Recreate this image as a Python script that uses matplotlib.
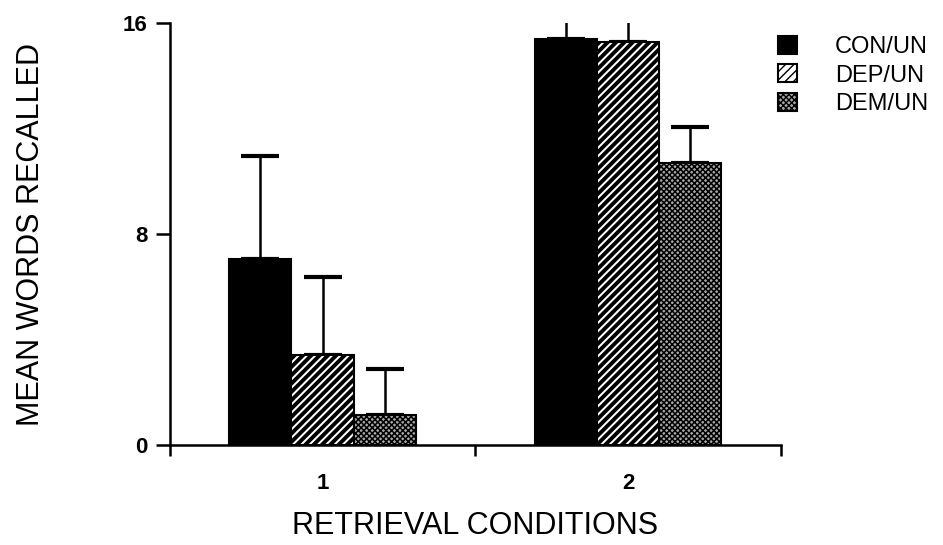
import matplotlib.pyplot as plt
import numpy as np

plt.rcParams['font.family'] = ['Liberation Sans', 'DejaVu Sans']

conditions = ['1', '2']
series = ['CON/UN', 'DEP/UN', 'DEM/UN']
con_un = [7.05, 15.4]
dep_un = [3.42, 15.3]
dem_un = [1.15, 10.7]
con_err = [3.93, 0.9]
dep_err = [2.97, 1.0]
dem_err = [1.74, 1.38]

values = [con_un, dep_un, dem_un]
errors = [con_err, dep_err, dem_err]
faces = ['black', 'white', '#a8a8a8']
hatches = [None, '////', 'xxxxxx']
hatch_lw = [1.0, 2.8, 1.1]

fig = plt.figure(figsize=(9.43, 5.45), dpi=100)
ax = fig.add_axes([0.180, 0.183, 0.648, 0.774])

centers = np.arange(len(conditions)) + 0.5
width = 0.203
handles = []
for i, (vals, errs) in enumerate(zip(values, errors)):
    x = centers + (i - 1) * width
    with plt.rc_context({'hatch.linewidth': hatch_lw[i]}):
        bars = ax.bar(x, vals, width, color=faces[i], edgecolor='black',
                      linewidth=1.5, hatch=hatches[i], label=series[i], zorder=2)
    handles.append(bars)
    ax.errorbar(x, vals, yerr=[np.zeros(len(errs)), errs], fmt='none',
                ecolor='black', elinewidth=1.8, capsize=14, capthick=3, zorder=1)

ax.set_xlim(0, 2)
ax.set_ylim(0, 16)
ax.spines['top'].set_visible(False)
ax.spines['right'].set_visible(False)
for s in ['left', 'bottom']:
    ax.spines[s].set_linewidth(1.8)

ax.set_yticks([0, 8, 16])
ax.tick_params(axis='y', direction='out', length=10, width=1.8, labelsize=16, pad=6)
ax.set_xticks([0, 1, 2])
ax.set_xticklabels([])
ax.set_xticks(centers, minor=True)
ax.set_xticklabels(conditions, minor=True)
ax.tick_params(axis='x', which='major', direction='out', length=8, width=1.8)
ax.tick_params(axis='x', which='minor', length=0, labelsize=16, pad=20)
for lab in ax.get_yticklabels() + ax.get_xticklabels(minor=True):
    lab.set_fontweight('bold')

ax.set_xlabel('RETRIEVAL CONDITIONS', fontsize=22, labelpad=12)
ax.set_ylabel('MEAN WORDS RECALLED', fontsize=22, labelpad=55)

fig.legend(handles=handles, labels=series, loc='upper left',
           bbox_to_anchor=(0.825, 0.934), frameon=False, fontsize=17,
           borderpad=0, borderaxespad=0,
           handlelength=0.8, handleheight=0.8, handletextpad=1.6,
           labelspacing=0.26)

plt.savefig('out.png', dpi=100)
